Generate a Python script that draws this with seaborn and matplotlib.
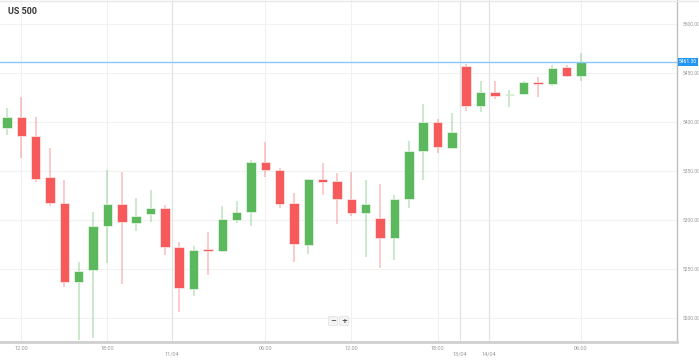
import numpy as np
import pandas as pd
import matplotlib.pyplot as plt
import matplotlib.transforms as mtransforms
from matplotlib.lines import Line2D
import seaborn as sns

# hourly candles, US 500
opens = [5393.6, 5404.8, 5385.7, 5343.6, 5317.7, 5237.0, 5248.7, 5293.9, 5316.0, 5297.2,
         5305.8, 5311.9, 5272.8, 5229.6, 5270.1, 5268.4, 5300.0, 5307.9, 5359.5, 5351.0,
         5317.7, 5274.5, 5341.5, 5339.8, 5321.1, 5306.8, 5301.7, 5281.9, 5321.1, 5370.4,
         5399.7, 5373.8, 5457.1, 5416.6, 5430.6, 5427.2, 5428.3, 5440.5, 5438.5, 5455.8,
         5447.2]
closes = [5405.4, 5385.7, 5341.5, 5317.0, 5237.0, 5248.3, 5293.9, 5316.0, 5297.7, 5304.1,
          5311.9, 5272.8, 5230.3, 5269.1, 5268.7, 5300.7, 5308.5, 5359.5, 5351.0, 5316.0,
          5275.2, 5341.5, 5338.8, 5321.1, 5306.8, 5316.0, 5281.9, 5321.1, 5370.7, 5399.7,
          5374.2, 5389.5, 5416.6, 5430.6, 5426.5, 5428.6, 5440.5, 5438.5, 5455.1, 5447.2,
          5461.3]
highs = [5414.0, 5425.8, 5405.4, 5373.8, 5340.8, 5257.4, 5308.5, 5351.0, 5348.7, 5322.8,
         5330.6, 5315.3, 5277.9, 5273.8, 5288.1, 5314.3, 5319.4, 5361.2, 5379.3, 5353.4,
         5327.2, 5341.5, 5358.5, 5348.3, 5349.3, 5340.8, 5336.7, 5325.5, 5380.6, 5418.1,
         5402.8, 5409.5, 5459.2, 5442.1, 5442.1, 5432.7, 5441.5, 5445.6, 5458.2, 5458.2,
         5470.1]
lows = [5386.7, 5363.6, 5339.1, 5314.3, 5231.3, 5177.6, 5179.6, 5255.8, 5234.4, 5289.1,
        5297.7, 5264.3, 5206.4, 5222.8, 5243.9, 5268.4, 5297.2, 5293.9, 5344.2, 5312.6,
        5257.4, 5265.3, 5325.5, 5295.6, 5304.1, 5262.6, 5251.3, 5259.2, 5311.9, 5340.8,
        5368.1, 5373.8, 5411.5, 5410.5, 5423.2, 5415.6, 5427.6, 5425.8, 5437.0, 5446.2,
        5442.1]

time_ticks = [1, 7, 18, 24, 30, 40]
time_labels = ["12:00", "18:00", "06:00", "12:00", "18:00", "06:00"]
date_ticks = [11.5, 31.55, 33.6]
date_labels = ["11/04", "13/04", "14/04"]
price_ticks = [5200, 5250, 5300, 5350, 5400, 5450, 5500]
last_price = 5461.30

GREEN = "#5cb85c"
RED = "#f65a5a"

df = pd.DataFrame({"open": opens, "close": closes, "high": highs, "low": lows})
df["idx"] = np.arange(len(df))
df["up"] = df["close"] >= df["open"]
df["color"] = np.where(df["up"], GREEN, RED)
df["body"] = (df["close"] - df["open"]).abs().clip(lower=1.3)
df["bottom"] = df[["open", "close"]].min(axis=1)

sns.set_theme(style="white")
plt.rcParams['font.family'] = ['Roboto', 'DejaVu Sans']

fig = plt.figure(figsize=(6.99, 3.6), dpi=100)
ax = fig.add_axes([0, 1 - 341.5 / 360, 677 / 699, 341.5 / 360])

ax.vlines(df["idx"], df["low"], df["high"], colors=df["color"], alpha=0.4, linewidth=1.1, zorder=2)
ax.bar(df["idx"], df["body"], bottom=df["bottom"], width=0.66, color=df["color"],
       edgecolor="white", linewidth=0.4, zorder=3)

ax.set_xlim(-0.488, 46.69)
ax.set_ylim(5176.0, 5524.5)

# grid
for p in price_ticks:
    ax.axhline(p, color="#f2f2f2", linewidth=0.8, zorder=0)
for t in time_ticks:
    ax.axvline(t, color="#f0f0f0", linewidth=0.8, zorder=0)
for t in date_ticks:
    ax.axvline(t, color="#e2e2e2", linewidth=0.9, zorder=0)

# current price line
ax.axhline(last_price, color="#8cc8f5", linewidth=1.0, zorder=4)
trans = mtransforms.blended_transform_factory(ax.transAxes, ax.transData)
ax.text(1.003, last_price, f"{last_price:.2f}", transform=trans, fontsize=3.6, color="white",
        va="center", ha="left", zorder=6, clip_on=False,
        bbox=dict(boxstyle="square,pad=0.25", facecolor="#2196f3", edgecolor="none"))

# axes
ax.yaxis.tick_right()
ax.set_yticks(price_ticks)
ax.set_yticklabels([f"{p:.2f}" for p in price_ticks])
ax.tick_params(axis="y", labelsize=3.6, labelcolor="#9a9a9a", length=0, pad=4)
ax.set_xticks(time_ticks)
ax.set_xticklabels(time_labels)
ax.set_xticks(date_ticks, minor=True)
ax.set_xticklabels(date_labels, minor=True)
ax.tick_params(axis="x", which="major", labelsize=4, labelcolor="#9a9a9a", length=2,
               color="#bbbbbb", width=0.6, pad=1.5)
ax.tick_params(axis="x", which="minor", labelsize=4, labelcolor="#9a9a9a", length=6,
               color="#cccccc", width=0.6, pad=1.0)

for s in ["top", "left"]:
    ax.spines[s].set_visible(False)
ax.spines["right"].set_color("#bdbdbd")
ax.spines["right"].set_linewidth(1.0)
ax.spines["bottom"].set_color("#cfcfcf")
ax.spines["bottom"].set_linewidth(2.0)

fig.add_artist(Line2D([0, 1], [1 - 1 / 360, 1 - 1 / 360], color="#e8e8e8", linewidth=1.0))

fig.text(8 / 699, 1 - 12 / 360, "US 500", fontsize=6.5, fontweight="bold", color="#333333",
         va="center", ha="left")

# zoom controls
for xp, s in [(333, "\u2212"), (344, "+")]:
    fig.text(xp / 699, 1 - 321 / 360, s, fontsize=5, fontweight="bold", color="#444444",
             ha="center", va="center", family=["DejaVu Sans"],
             bbox=dict(boxstyle="round,pad=0.25", facecolor="#f4f4f4", edgecolor="#e0e0e0", linewidth=0.5))

fig.savefig("out.png", dpi=100)
